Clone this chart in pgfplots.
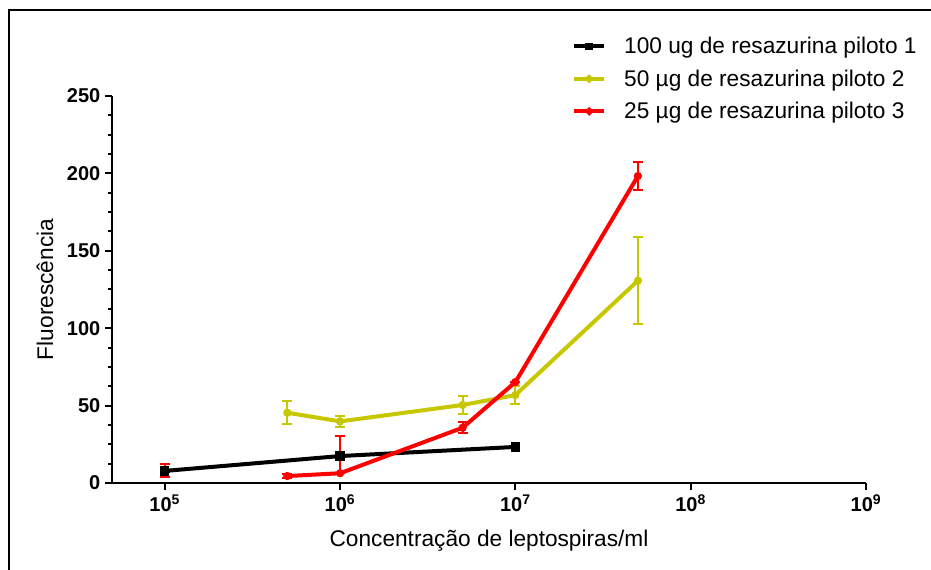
\documentclass[border=0pt]{standalone}
\usepackage{fontspec}
\setmainfont{Liberation Sans}
\usepackage{pgfplots}
\pgfplotsset{compat=1.18}
\definecolor{myyellow}{RGB}{199,199,0}
\definecolor{myred}{RGB}{255,0,0}
\begin{document}
\begin{tikzpicture}
\useasboundingbox (0pt,0pt) rectangle (698.25pt,427.5pt);
\draw[line width=1.4pt] (6.75pt,0pt) -- (6.75pt,420pt) -- (698.25pt,420pt);
\begin{axis}[
  at={(84pt,65.25pt)}, anchor=south west,
  scale only axis, width=565.5pt, height=290.25pt,
  xmode=log, xmin=5e4, xmax=1e9, ymin=0, ymax=250,
  axis x line*=bottom, axis y line*=left,
  axis line style={-, line width=1.5pt},
  xtick={1e5,1e6,1e7,1e8,1e9},
  xticklabels={10\textsuperscript{5},10\textsuperscript{6},10\textsuperscript{7},10\textsuperscript{8},10\textsuperscript{9}},
  xminorticks=false,
  ytick={0,50,100,150,200,250},
  yticklabels={0,50,100,150,200,250},
  minor y tick num=3,
  tick align=outside,
  major tick length=5.25pt, minor tick length=3pt,
  every tick/.style={black, line width=1.5pt},
  tick label style={font=\fontsize{15}{15}\selectfont\bfseries},
  label style={font=\fontsize{17}{17}\selectfont},
  xlabel={Concentração de leptospiras/ml},
  ylabel={Fluorescência},
  xlabel style={at={(axis description cs:0.5,0)}, anchor=center, yshift=-43.5pt},
  ylabel style={at={(axis description cs:-0.089,0.5)}, anchor=center},
  legend style={at={(axis description cs:0.61,1.153)}, anchor=north west,
    draw=none, fill=none, inner sep=0pt, row sep=10.6pt,
    nodes={inner sep=0pt}, column sep=13.5pt,
    font=\fontsize{17}{17}\selectfont},
  legend cell align=left,
  legend image code/.code={\draw[#1, line width=3pt] (0pt,0pt) -- (22.5pt,0pt);
    \draw[#1, only marks, mark size=1.3pt] plot coordinates {(11.25pt,0pt)};},
  error bars/y dir=both, error bars/y explicit,
  error bars/error bar style={line width=1.5pt},
  error bars/error mark options={rotate=90, mark size=3.75pt, line width=1.5pt},
]
\addplot[myred, forget plot, only marks, mark=none, error bars/error bar style={myred, line width=1.5pt}, error bars/error mark options={myred, rotate=90, mark size=3.75pt, line width=1.5pt}]
  table[x=x, y=y, y error plus=ep, y error minus=em] {
x y ep em
1e5 8.2 4.1 4.1
};
\addplot[black, line width=3pt, mark=square*, mark size=2pt, mark options={solid}]
  table[x=x, y=y, y error plus=ep, y error minus=em] {
x y ep em
1e5 7.8 0.5 0.5
1e6 17.4 1 1
1e7 23.3 0.8 0.8
};
\addlegendentry{100 ug de resazurina piloto 1}
\addplot[myyellow, line width=3pt, mark=*, mark size=1.5pt]
  table[x=x, y=y, y error plus=ep, y error minus=em] {
x y ep em
5e5 45.4 7.3 7.3
1e6 39.8 3.6 3.6
5e6 50.4 6.1 6.1
1e7 56.8 6 6
5e7 130.7 28 28
};
\addlegendentry{50 µg de resazurina piloto 2}
\addplot[myred, line width=3pt, mark=*, mark size=1.5pt]
  table[x=x, y=y, y error plus=ep, y error minus=em] {
x y ep em
5e5 4.5 1.5 1.5
1e6 6.3 24.1 0
5e6 35.7 3.5 3.5
1e7 65.2 0 0
5e7 198.3 8.8 8.8
};
\addlegendentry{25 µg de resazurina piloto 3}
\end{axis}
\end{tikzpicture}
\end{document}
